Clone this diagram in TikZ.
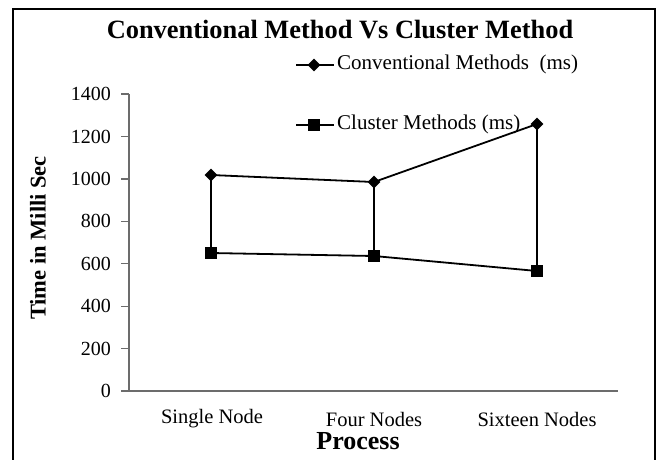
\documentclass[tikz,border=0pt]{standalone}
\usepackage{fontspec}
\setmainfont{Liberation Serif}
\usetikzlibrary{shapes.geometric}
\begin{document}
\begin{tikzpicture}[x=1pt,y=-1pt,
  axisline/.style={draw=gray!85!black,line width=1.2pt},
  series/.style={draw=black,line width=1.8pt},
  dropline/.style={draw=black,line width=1.4pt},
  dmark/.style={diamond,fill=black,inner sep=0pt,minimum width=13pt,minimum height=13pt},
  smark/.style={rectangle,fill=black,inner sep=0pt,minimum size=11.5pt},
  ticklab/.style={font=\fontsize{20}{22}\selectfont,anchor=east,inner sep=0pt},
  catlab/.style={font=\fontsize{20.5}{22}\selectfont,inner sep=0pt},
  leglab/.style={font=\fontsize{21}{23}\selectfont,anchor=west,inner sep=0pt}]
\useasboundingbox (0,0) rectangle (662,459);
% frame
\draw[line width=2.2pt] (13,470) -- (13,9) -- (655,9) -- (655,470);
% title
\node[font=\bfseries\fontsize{26.4}{29}\selectfont] (title) at (340,30) {Conventional Method Vs Cluster Method};
% axes
\coordinate (o) at (129,391);
\coordinate (ytop) at (129,94);
\coordinate (xend) at (618,391);
\draw[axisline] (ytop) -- (o) -- (xend);
\foreach \v [count=\i] in {0,200,400,600,800,1000,1200,1400}{
  \coordinate (t\i) at (129,{391-\v*0.2121});
  \coordinate (tl\i) at (121,{391-\v*0.2121});
  \draw[axisline] (t\i) -- (tl\i);
  \node[ticklab] (yl\i) at (111,{391-\v*0.2121}) {\v};
}
\node[catlab] (c1) at (212,419) {Single Node};
\node[catlab] (c2) at (374,419) {Four Nodes};
\node[catlab] (c3) at (537,419) {Sixteen Nodes};
\node[font=\bfseries\fontsize{26}{28}\selectfont,inner sep=0pt] (xt) at (358,441) {Process};
\node[font=\bfseries\fontsize{22.5}{25}\selectfont,rotate=90,inner sep=0pt] (yt) at (38,238) {Time in Milli Sec};
% legend
\coordinate (l1a) at (296,65); \coordinate (l1b) at (334,65);
\coordinate (l2a) at (296,125); \coordinate (l2b) at (334,125);
\draw[series] (l1a) -- (l1b);
\node[dmark] (ld) at (314,65) {};
\node[leglab] (lt1) at (337,64) {Conventional Methods\ \ (ms)};
\draw[series] (l2a) -- (l2b);
\node[smark] (ls) at (314,125) {};
\node[leglab] (lt2) at (337,124) {Cluster Methods (ms)};
% data
\coordinate (a1) at (211,175);
\coordinate (a2) at (374,182);
\coordinate (a3) at (537,124);
\coordinate (b1) at (211,253);
\coordinate (b2) at (374,256);
\coordinate (b3) at (537,271);
\draw[dropline] (a1) -- (b1);
\draw[dropline] (a2) -- (b2);
\draw[dropline] (a3) -- (b3);
\draw[series] (a1) -- (a2) -- (a3);
\draw[series] (b1) -- (b2) -- (b3);
\foreach \i in {1,2,3}{
  \node[dmark] (pa\i) at (a\i) {};
  \node[smark] (pb\i) at (b\i) {};
}
\end{tikzpicture}
\end{document}
